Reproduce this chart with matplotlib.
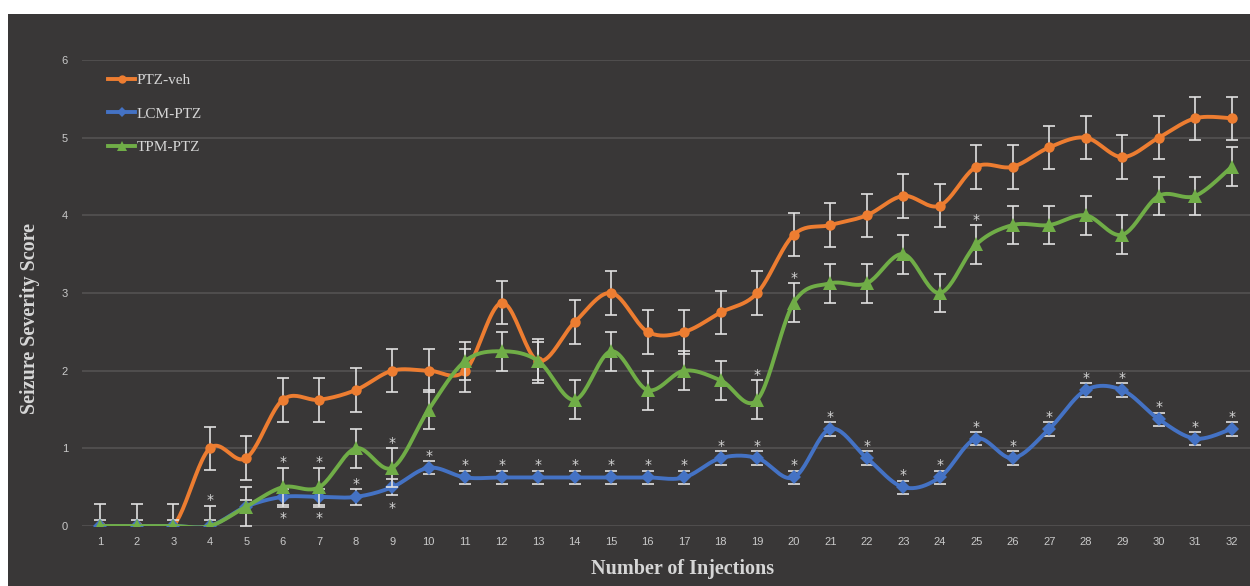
import numpy as np
import matplotlib
matplotlib.use("Agg")
import matplotlib.pyplot as plt
from matplotlib.patches import Rectangle
from matplotlib.lines import Line2D

# ---- data -------------------------------------------------------------
injections = list(range(1, 33))

ptz_veh = [0, 0, 0, 1.0, 0.875, 1.625, 1.625, 1.75, 2.0, 2.0, 2.0, 2.875,
           2.125, 2.625, 3.0, 2.5, 2.5, 2.75, 3.0, 3.75, 3.875, 4.0, 4.25,
           4.125, 4.625, 4.625, 4.875, 5.0, 4.75, 5.0, 5.25, 5.25]
ptz_veh_err = [0.28] * 32

lcm_ptz = [0, 0, 0, 0, 0.25, 0.375, 0.375, 0.375, 0.5, 0.75, 0.625, 0.625,
           0.625, 0.625, 0.625, 0.625, 0.625, 0.875, 0.875, 0.625, 1.25,
           0.875, 0.5, 0.625, 1.125, 0.875, 1.25, 1.75, 1.75, 1.375, 1.125,
           1.25]
lcm_ptz_err = [0.08, 0.08, 0.08, 0.08, 0.08, 0.1, 0.1, 0.1, 0.1] + [0.085] * 23

tpm_ptz = [0, 0, 0, 0, 0.25, 0.5, 0.5, 1.0, 0.75, 1.5, 2.125, 2.25, 2.125,
           1.625, 2.25, 1.75, 2.0, 1.875, 1.625, 2.875, 3.125, 3.125, 3.5,
           3.0, 3.625, 3.875, 3.875, 4.0, 3.75, 4.25, 4.25, 4.625]
tpm_ptz_err = [0, 0, 0, 0.26] + [0.25] * 28

# significance marks: injection numbers, star above or below the error bar
lcm_sig_above = [8] + list(range(10, 33))
lcm_sig_below = [6, 7, 9]
tpm_sig_above = [4, 6, 7, 9, 19, 20, 25]

series_names = ["PTZ-veh", "LCM-PTZ", "TPM-PTZ"]
y_ticks = [0, 1, 2, 3, 4, 5, 6]

# ---- styling ----------------------------------------------------------
BG = "#393737"
GRID = "#575454"
TXT = "#c9c9c9"
LABEL = "#d6d6d6"
ERR = "#e0e0e0"
ORANGE = "#ED7D31"
BLUE = "#4472C4"
GREEN = "#70AD47"


def smooth_curve(x, y, n=24):
    """Cubic Bezier smoothing through every point (Catmull-Rom control points)."""
    x = np.asarray(x, float)
    y = np.asarray(y, float)
    px = np.concatenate([[x[0]], x, [x[-1]]])
    py = np.concatenate([[y[0]], y, [y[-1]]])
    xs, ys = [], []
    t = np.linspace(0, 1, n)
    for i in range(len(x) - 1):
        p0x, p0y = px[i + 1], py[i + 1]
        p3x, p3y = px[i + 2], py[i + 2]
        c1x = p0x + (px[i + 2] - px[i]) / 6.0
        c1y = p0y + (py[i + 2] - py[i]) / 6.0
        c2x = p3x - (px[i + 3] - px[i + 1]) / 6.0
        c2y = p3y - (py[i + 3] - py[i + 1]) / 6.0
        b0 = (1 - t) ** 3
        b1 = 3 * (1 - t) ** 2 * t
        b2 = 3 * (1 - t) * t ** 2
        b3 = t ** 3
        xs.append(b0 * p0x + b1 * c1x + b2 * c2x + b3 * p3x)
        ys.append(b0 * p0y + b1 * c1y + b2 * c2y + b3 * p3y)
    return np.concatenate(xs), np.concatenate(ys)


fig = plt.figure(figsize=(12.5, 5.86), dpi=100, facecolor="white")
fig.patches.append(Rectangle((8 / 1250, 0), 1 - 8 / 1250, (586 - 14) / 586,
                             transform=fig.transFigure, facecolor=BG,
                             edgecolor="none", zorder=-10))

ax = fig.add_axes([82 / 1250, 60 / 586, 1 - 82 / 1250, (526 - 60) / 586])
ax.set_facecolor("none")
ax.set_zorder(1)

series = [
    (ptz_veh, ptz_veh_err, ORANGE, "o", 7.5),
    (lcm_ptz, lcm_ptz_err, BLUE, "D", 6.8),
    (tpm_ptz, tpm_ptz_err, GREEN, "^", 9.5),
]

handles = []
for k, (vals, errs, color, marker, ms) in enumerate(series):
    e = np.asarray(errs)
    mask = e > 0
    ax.errorbar(np.asarray(injections)[mask], np.asarray(vals)[mask],
                yerr=e[mask], fmt="none", ecolor=ERR, elinewidth=1.2,
                capsize=4.5, capthick=1.2, zorder=2 + 2 * k)
    sx, sy = smooth_curve(injections, vals)
    ax.plot(sx, sy, color=color, lw=2.8, solid_capstyle="round",
            zorder=3 + 2 * k)
    ax.plot(injections, vals, linestyle="none", marker=marker, ms=ms,
            color=color, markeredgewidth=0, zorder=3 + 2 * k)
    handles.append(Line2D([], [], color=color, lw=2.8, marker=marker,
                          ms=ms * 0.8, markeredgewidth=0))


def star(x, y, above):
    off = 1.0 if above else -12.5
    ax.annotate("*", (x, y), xytext=(0, off), textcoords="offset points",
                ha="center", va="baseline", fontsize=10, color=LABEL,
                family="DejaVu Sans", zorder=9)


for i in lcm_sig_above:
    star(i, lcm_ptz[i - 1] + lcm_ptz_err[i - 1], True)
for i in lcm_sig_below:
    star(i, lcm_ptz[i - 1] - lcm_ptz_err[i - 1], False)
for i in tpm_sig_above:
    star(i, tpm_ptz[i - 1] + tpm_ptz_err[i - 1], True)

ax.set_xlim(0.5, 32.5)
ax.set_ylim(0, 6)
ax.set_xticks(injections)
ax.set_xticklabels([str(i) for i in injections])
ax.set_yticks(y_ticks)
ax.set_yticklabels([str(v) for v in y_ticks])
ax.tick_params(length=0, colors=TXT, labelsize=8)
ax.tick_params(axis="y", pad=10)
ax.tick_params(axis="x", pad=8)
for lab in ax.get_xticklabels() + ax.get_yticklabels():
    lab.set_family("Liberation Sans")
for s in ax.spines.values():
    s.set_visible(False)
ax.yaxis.grid(True, color=GRID, lw=1.1)
ax.set_axisbelow(True)

leg = ax.legend(handles, series_names, loc="upper left",
                bbox_to_anchor=(8 / 1168, 1.0 + 5 / 466), frameon=False,
                prop={"family": "Liberation Serif", "size": 11},
                labelcolor=LABEL, handlelength=1.75, handletextpad=0.1,
                labelspacing=1.3, borderpad=0.6, borderaxespad=0.6)
leg.set_zorder(10)

fig.text(30 / 1250, 1 - 318 / 586, "Seizure Severity Score", rotation=90,
         ha="center", va="center", family="Liberation Serif",
         fontweight="bold", fontsize=14.5, color=LABEL)
fig.text(683 / 1250, 1 - 569 / 586, "Number of Injections",
         ha="center", va="center", family="Liberation Serif",
         fontweight="bold", fontsize=14.5, color=LABEL)

fig.savefig("out.png", dpi=100, facecolor="white")
